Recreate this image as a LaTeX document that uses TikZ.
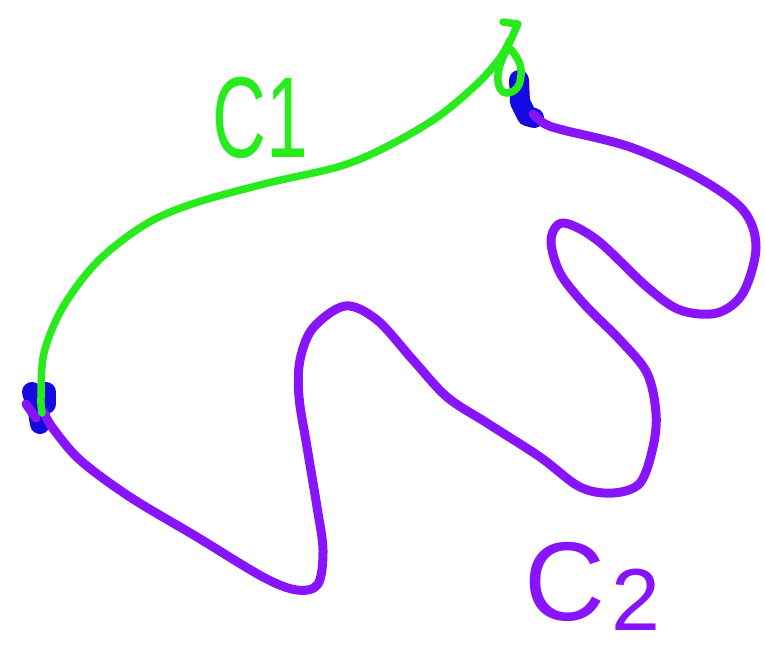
\documentclass[tikz,border=0pt]{standalone}
\usepackage{fontspec}
\newfontfamily\handfont{Liberation Sans}
\definecolor{cgreen}{RGB}{40,235,30}
\definecolor{cpurple}{RGB}{135,20,250}
\definecolor{cblue}{RGB}{20,10,225}
\tikzset{
  greenline/.style={draw=cgreen, line width=7.5pt, line cap=round, line join=round},
  purpleline/.style={draw=cpurple, line width=9pt, line cap=round, line join=round},
  blueblob/.style={draw=cblue, line width=20pt, line cap=round, line join=round},
  lbl/.style={font=\handfont, inner sep=0pt, anchor=base west}
}
\begin{document}
\begin{tikzpicture}[x=1pt,y=-1pt]
\useasboundingbox (0,0) rectangle (765,654);
\coordinate (A) at (42,405);
\coordinate (B) at (522,100);
% blue blobs
\draw[blueblob] (32,392) -- (38,412) -- (40,424);
\draw[blueblob] (46,392) -- (46,404);
\draw[blueblob] (519,80) -- (520,102) -- (527,116) -- (534,118);
% purple curve C2
\draw[purpleline] plot[smooth, tension=0.55] coordinates {
 (44,412) (52,427) (80,460) (130,497) (197,537) (263,577) (297,590) (318,584)
 (323,550) (317,507) (307,447) (299,397) (300,360) (313,328) (345,306) (377,320)
 (413,360) (447,397) (487,423) (540,457) (580,487) (613,493) (640,483) (653,447)
 (656,413) (647,373) (620,340) (585,305) (560,273) (551,240) (563,223) (597,240)
 (647,287) (680,310) (717,313) (743,293) (756,247) (743,210) (697,177) (630,147)
 (563,130) (545,124) (533,114)};
\draw[purpleline] (26,404) -- (36,418);
% green curve C1
\draw[greenline] plot[smooth, tension=0.55] coordinates {
 (42,413) (41,398) (44,353) (63,307) (98,261) (146,224) (195,203) (268,183)
 (341,166) (390,145) (439,116) (478,83) (500,58) (510,40)};
\draw[greenline] (503,22) -- (518,24) -- (507,48);
\draw[greenline] plot[smooth cycle, tension=0.7] coordinates {
 (507,50) (498,75) (503,92) (517,88) (521,70) (515,55)};
% labels
\node[lbl, text=cgreen, xscale=0.65] (c1) at (212,157) {\fontsize{115}{115}\selectfont C1};
\node[lbl, text=cpurple] (c2) at (524,620) {\fontsize{112}{112}\selectfont C\hspace{6pt}{\fontsize{88}{88}\selectfont\raisebox{-10pt}{2}}};
\end{tikzpicture}
\end{document}
